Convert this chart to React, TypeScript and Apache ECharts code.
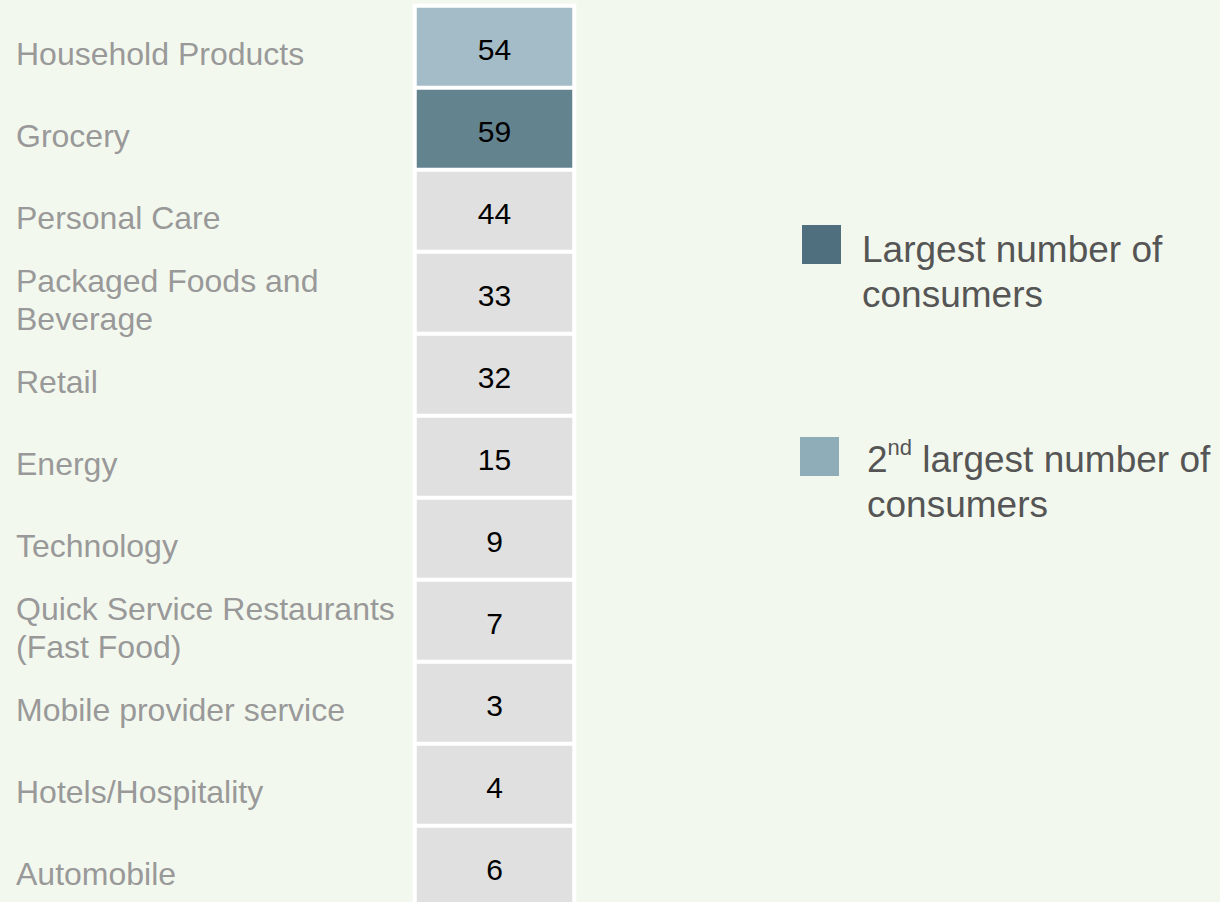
import React, { useEffect, useRef } from "react";
import * as echarts from "echarts";

const categories = [
  "Household Products",
  "Grocery",
  "Personal Care",
  "Packaged Foods and\nBeverage",
  "Retail",
  "Energy",
  "Technology",
  "Quick Service Restaurants\n(Fast Food)",
  "Mobile provider service",
  "Hotels/Hospitality",
  "Automobile",
];
const values = [54, 59, 44, 33, 32, 15, 9, 7, 3, 4, 6];
// rank highlight: 1 = largest, 2 = second largest, 0 = other
const highlight = [2, 1, 0, 0, 0, 0, 0, 0, 0, 0, 0];
const columnName = ["Count"];
const legendLabels = ["Largest number of\nconsumers", "2nd largest number of\nconsumers"];

const FONT = "'Liberation Sans', Arial, Helvetica, sans-serif";
const cellColors = ["#e0e0e0", "#63838f", "#a4bcc7"];

export default function App() {
  const ref = useRef<HTMLDivElement>(null);
  useEffect(() => {
    if (!ref.current) return;
    const chart = echarts.init(ref.current, undefined, { renderer: "svg" });
    const data = values.map((v, i) => [0, i, v, highlight[i]]);
    const labelData = categories.map((c, i) => [0, i]);
    chart.setOption({
      animation: false,
      backgroundColor: "#f3f8ee",
      grid: {
        left: 415,
        top: 6,
        width: 159,
        height: 902,
        show: true,
        backgroundColor: "#ffffff",
        borderColor: "#ffffff",
        borderWidth: 4,
      },
      xAxis: {
        type: "category",
        data: columnName,
        show: false,
      },
      yAxis: {
        type: "category",
        data: categories,
        inverse: true,
        axisLine: { show: false },
        axisTick: { show: false },
        splitLine: { show: false },
        axisLabel: { show: false },
      },
      visualMap: {
        type: "piecewise",
        show: false,
        dimension: 3,
        seriesIndex: 0,
        pieces: [
          { value: 0, color: cellColors[0] },
          { value: 1, color: cellColors[1] },
          { value: 2, color: cellColors[2] },
        ],
      },
      series: [
        {
          type: "heatmap",
          data,
          encode: { x: 0, y: 1, value: 2 },
          itemStyle: { borderColor: "#ffffff", borderWidth: 4 },
          label: {
            show: true,
            fontFamily: FONT,
            fontSize: 30,
            color: "#000000",
            offset: [0, 2],
            formatter: (p: any) => String(p.value[2]),
          },
          emphasis: { disabled: true },
        },
        {
          type: "scatter",
          data: labelData,
          symbolSize: 0,
          silent: true,
          itemStyle: { opacity: 1 },
          label: {
            show: true,
            position: "inside",
            align: "left",
            verticalAlign: "middle",
            offset: [16 - 494.5, 6.5],
            fontFamily: FONT,
            fontSize: 32,
            lineHeight: 38,
            color: "#999999",
            formatter: (p: any) => categories[p.dataIndex],
          },
          emphasis: { disabled: true },
        },
      ],
      graphic: [
        { type: "rect", shape: { x: 802, y: 225, width: 39, height: 39 }, style: { fill: "#4f6f7f" } },
        { type: "rect", shape: { x: 800, y: 437, width: 39, height: 39 }, style: { fill: "#8fadb8" } },
        {
          type: "text",
          x: 862,
          y: 271.5,
          style: {
            text: legendLabels[0],
            font: `37px ${FONT}`,
            fill: "#555555",
            lineHeight: 45,
            verticalAlign: "middle",
            align: "left",
          },
        },
        {
          type: "text",
          x: 867,
          y: 481.5,
          style: {
            text: "2{sup|nd}{n| largest number of}\nconsumers",
            font: `37px ${FONT}`,
            fill: "#555555",
            lineHeight: 45,
            verticalAlign: "middle",
            align: "left",
            rich: {
              sup: { fontSize: 22, fontFamily: FONT, fill: "#555555", verticalAlign: "top", lineHeight: 35 },
              n: { fontSize: 37, fontFamily: FONT, fill: "#555555", lineHeight: 45 },
            },
          },
        },
      ],
    });
    return () => chart.dispose();
  }, []);
  return (
    <div
      style={{
        position: "fixed",
        left: 0,
        top: 0,
        width: 1220,
        height: 902,
        overflow: "hidden",
        background: "#f3f8ee",
      }}
    >
      <div ref={ref} style={{ width: 1220, height: 912 }} />
    </div>
  );
}
